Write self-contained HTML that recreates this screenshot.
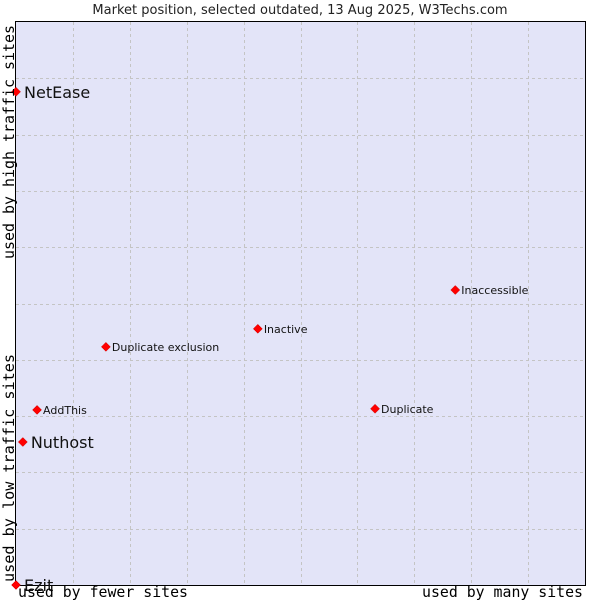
<!DOCTYPE html>
<html><head><meta charset="utf-8"><style>
body{margin:0;background:#fff;}
svg{display:block;font-family:"DejaVu Sans","Liberation Sans",sans-serif;}
</style></head><body>
<svg id="chart" width="600" height="600">
<text x="300" y="14" text-anchor="middle" font-size="13" fill="#222">Market position, selected outdated, 13 Aug 2025, W3Techs.com</text>
<rect x="15.5" y="21.5" width="570" height="564" fill="#e3e4f8" stroke="#000"/>
<g id="grid"></g>
<g id="pts"></g>
<text x="18" y="597" textLength="170" lengthAdjust="spacingAndGlyphs" font-family="DejaVu Sans Mono,Liberation Mono,monospace" font-size="15" fill="#000">used by fewer sites</text>
<text x="422" y="597" textLength="161" lengthAdjust="spacingAndGlyphs" font-family="DejaVu Sans Mono,Liberation Mono,monospace" font-size="15" fill="#000">used by many sites</text>
<text transform="translate(14,582) rotate(-90)" textLength="228" lengthAdjust="spacingAndGlyphs" font-family="DejaVu Sans Mono,Liberation Mono,monospace" font-size="15" fill="#000">used by low traffic sites</text>
<text transform="translate(14,259) rotate(-90)" textLength="234" lengthAdjust="spacingAndGlyphs" font-family="DejaVu Sans Mono,Liberation Mono,monospace" font-size="15" fill="#000">used by high traffic sites</text>
</svg>
<script>
const names=["NetEase","Nuthost","Ezit","AddThis","Duplicate exclusion","Inactive","Inaccessible","Duplicate"];
const xVals=[0,1.2,0,3.7,15.8,42.5,77.2,63.1];
const yVals=[87.6,25.4,0,31.1,42.3,45.5,52.4,31.3];
const bigLabel=[true,true,true,false,false,false,false,false];
const NS="http://www.w3.org/2000/svg";
const L=16,R=585,T=22,B=585;
const sx=v=>L+v/100*(R-L), sy=v=>B-v/100*(B-T);
const grid=document.getElementById('grid');
for(let i=1;i<10;i++){
  const v=document.createElementNS(NS,'line');
  
  
  const x=Math.round(sx(i*10))+0.5;
  v.setAttribute('x1',x);v.setAttribute('x2',x);v.setAttribute('y1',T);v.setAttribute('y2',B);
  v.setAttribute('stroke','#c4c4c4');v.setAttribute('stroke-dasharray','3,3');grid.appendChild(v);
  const h=document.createElementNS(NS,'line');
  
  
  const y=Math.round(sy(i*10))+0.5;
  h.setAttribute('x1',L);h.setAttribute('x2',R);h.setAttribute('y1',y);h.setAttribute('y2',y);
  h.setAttribute('stroke','#c4c4c4');h.setAttribute('stroke-dasharray','3,3');grid.appendChild(h);
}
const pts=document.getElementById('pts');
names.forEach((n,i)=>{
  const x=sx(xVals[i]),y=sy(yVals[i]);
  const d=document.createElementNS(NS,'path');
  
  
  d.setAttribute('d',`M${x} ${y-4.5}L${x+4.5} ${y}L${x} ${y+4.5}L${x-4.5} ${y}Z`);
  d.setAttribute('fill','#f00');d.setAttribute('stroke','#c00');d.setAttribute('stroke-width','0.5');
  pts.appendChild(d);
  const t=document.createElementNS(NS,'text');
  
  
  t.setAttribute('x',x+(bigLabel[i]?8:6));
  t.setAttribute('y',y+(bigLabel[i]?6:4));
  t.setAttribute('font-size',bigLabel[i]?16:11);
  t.setAttribute('fill','#111');
  t.textContent=n;pts.appendChild(t);
});
</script>
</body></html>
